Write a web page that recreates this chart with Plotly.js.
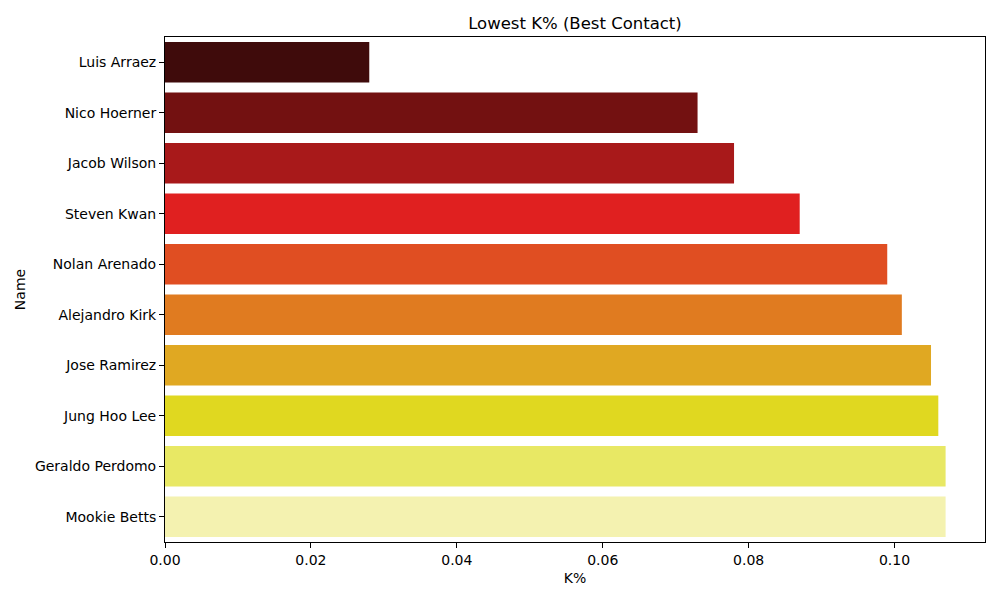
<!DOCTYPE html>
<html>
<head>
<meta charset="utf-8">
<script src="https://cdn.plot.ly/plotly-3.0.1.min.js"></script>
<style>
  html, body { margin: 0; padding: 0; background: #fff; }
  #chart { width: 1000px; height: 600px; }
</style>
</head>
<body>
<div id="chart"></div>
<script>
  // players, best contact first
  const names = ['Luis Arraez', 'Nico Hoerner', 'Jacob Wilson', 'Steven Kwan', 'Nolan Arenado',
                 'Alejandro Kirk', 'Jose Ramirez', 'Jung Hoo Lee', 'Geraldo Perdomo', 'Mookie Betts'];
  const kPct = [0.028, 0.073, 0.078, 0.087, 0.099, 0.101, 0.105, 0.106, 0.107, 0.107];
  // seaborn "hot" palette, one colour per bar
  const barColors = ['#3f0b0b', '#731111', '#a8191a', '#e02020', '#e04e22',
                     '#e07b20', '#e0a822', '#e0d820', '#e8e864', '#f4f2b0'];

  const font = 'DejaVu Sans, sans-serif';

  const trace = {
    type: 'bar',
    orientation: 'h',
    x: kPct,
    y: names,
    marker: { color: barColors, line: { width: 0 } },
    hoverinfo: 'x+y'
  };

  const layout = {
    width: 1000,
    height: 600,
    margin: { l: 165, r: 15, t: 37, b: 58 },
    paper_bgcolor: '#fff',
    plot_bgcolor: '#fff',
    font: { family: font, size: 14, color: '#000' },
    showlegend: false,
    bargap: 0.2,
    title: {
      text: 'Lowest K% (Best Contact)',
      font: { family: font, size: 16.5, color: '#000' },
      x: 0.575, xanchor: 'center',
      y: 0.962, yanchor: 'middle'
    },
    xaxis: {
      range: [0, 0.1124],
      dtick: 0.02,
      tick0: 0,
      tickformat: '.2f',
      ticks: 'outside',
      ticklen: 5,
      tickcolor: '#000',
      tickfont: { size: 14 },
      showgrid: false,
      zeroline: false,
      showline: true,
      linecolor: '#000',
      linewidth: 1,
      mirror: true,
      title: { text: 'K%', font: { family: font, size: 14 }, standoff: 6 }
    },
    yaxis: {
      type: 'category',
      categoryorder: 'array',
      categoryarray: names,
      range: [9.5, -0.5],
      ticks: 'outside',
      ticklen: 5,
      tickcolor: '#000',
      tickfont: { size: 14 },
      showgrid: false,
      zeroline: false,
      showline: true,
      linecolor: '#000',
      linewidth: 1,
      mirror: true,
      title: { text: 'Name', font: { family: font, size: 14 }, standoff: 5 }
    }
  };

  Plotly.newPlot('chart', [trace], layout, { displayModeBar: false, staticPlot: true });
</script>
</body>
</html>
